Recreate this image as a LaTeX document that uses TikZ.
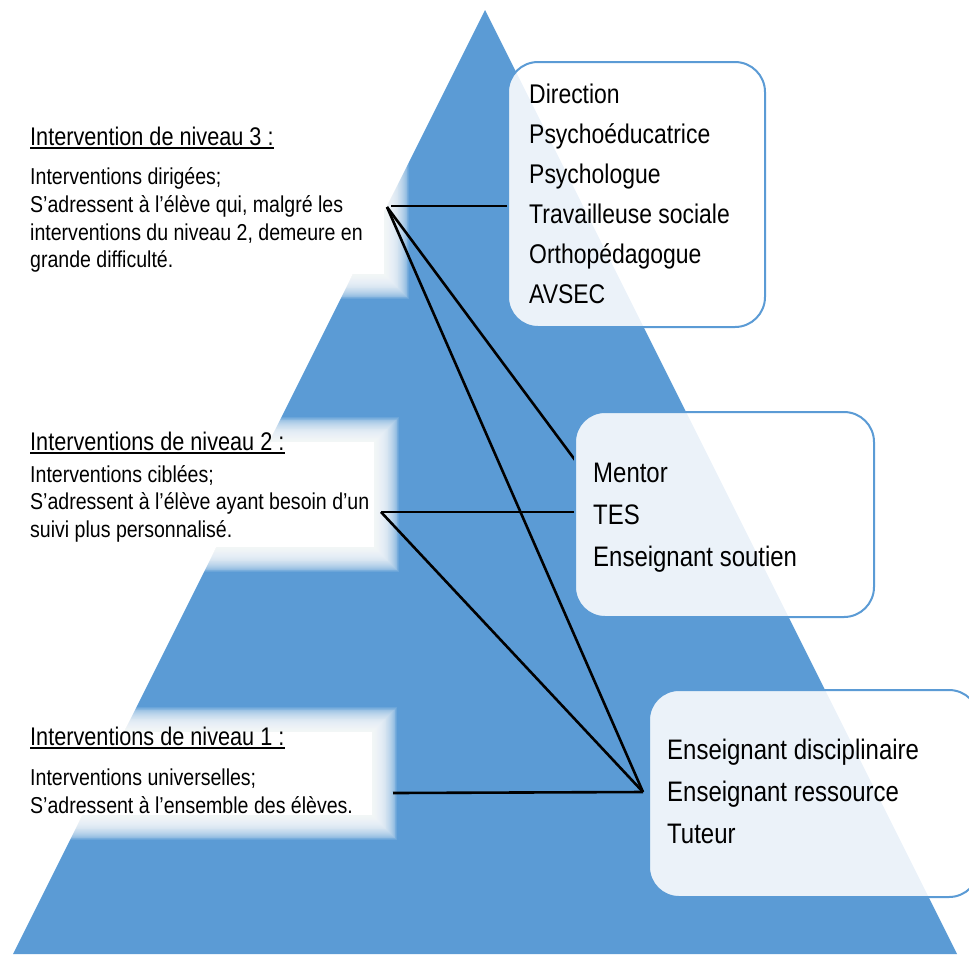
\documentclass[tikz,border=0pt]{standalone}
\usepackage{fontspec}
\setmainfont{Liberation Sans}[FakeStretch=0.85]
\definecolor{tri}{HTML}{5B9BD5}
\newcommand\glowbox[4]{%
  \foreach \i in {1,...,28}{\fill[white,opacity=0.1] ({#1-\i*0.9},{#2-\i*0.9}) rectangle ({#3+\i*0.9},{#4+\i*0.9});}
  \fill[white] (#1,#2) rectangle (#3,#4);}
\begin{document}
\begin{tikzpicture}[x=1pt,y=-1pt,
  conn/.style={black, line width=2.6pt},
  rbox/.style={draw=tri, line width=2pt, fill=white, fill opacity=0.88, rounded corners=30pt, inner sep=0pt},
  rtxt/.style={anchor=base west, inner sep=0pt, font=\fontsize{27}{32}\selectfont},
  rtxtb/.style={anchor=base west, inner sep=0pt, font=\fontsize{28.2}{33}\selectfont},
  ttl/.style={anchor=base west, inner sep=0pt, font=\fontsize{25.5}{30}\selectfont},
  body/.style={anchor=base west, inner sep=0pt, font=\fontsize{23}{27}\selectfont},
  uline/.style={black, line width=1.8pt}]
\useasboundingbox (0,0) rectangle (969,954);
\clip (0,0) rectangle (969,954);
% pyramid
\fill[tri] (485,10) -- (957,954) -- (13,954) -- cycle;
% soft white panels behind the level texts
\glowbox{0}{112}{384}{274}
\glowbox{0}{442}{374}{547}
\glowbox{0}{732}{372}{815}
% level 3 text
\node[ttl] (t3) at (30,145) {Intervention de niveau 3 :};
\draw[uline] ([yshift=-3pt]t3.base west) -- ([yshift=-3pt]t3.base east);
\node[body] (t3a) at (30,184) {Interventions dirigées;};
\node[body] (t3b) at (30,212) {S’adressent à l’élève qui, malgré les};
\node[body] (t3c) at (30,240) {interventions du niveau 2, demeure en};
\node[body] (t3d) at (30,267) {grande difficulté.};
% level 2 text
\node[ttl] (t2) at (30,450) {Interventions de niveau 2 :};
\draw[uline] ([yshift=-3pt]t2.base west) -- ([yshift=-3pt]t2.base east);
\node[body] (t2a) at (30,482) {Interventions ciblées;};
\node[body] (t2b) at (30,509) {S’adressent à l’élève ayant besoin d’un};
\node[body] (t2c) at (30,537) {suivi plus personnalisé.};
% level 1 text
\node[ttl] (t1) at (30,745) {Interventions de niveau 1 :};
\draw[uline] ([yshift=-3pt]t1.base west) -- ([yshift=-3pt]t1.base east);
\node[body] (t1a) at (30,785) {Interventions universelles;};
\node[body] (t1b) at (30,813) {S’adressent à l’ensemble des élèves.};
% junction points
\coordinate (j3) at (387,207);
\coordinate (j3h) at (391,206);
\coordinate (j2) at (381,512);
\coordinate (j1) at (393,793);
\coordinate (e1) at (507,206);
\coordinate (e2a) at (575,460);
\coordinate (e2b) at (575,512);
\coordinate (e3) at (643,792);
% connectors
\draw[conn] (j3h) -- (e1);
\draw[conn] (j3) -- (e2a);
\draw[conn] (j3) -- (e3);
\draw[conn] (j2) -- (e2b);
\draw[conn] (j2) -- (e3);
\draw[conn] (j1) -- (e3);
% right boxes
\node[rbox, minimum width=257pt, minimum height=265pt] (b1) at (636.5,194.5) {};
\node[rbox, minimum width=299pt, minimum height=205pt] (b2) at (724.5,514.5) {};
\node[rbox, minimum width=330pt, minimum height=207pt] (b3) at (814,793.5) {};
\node[rtxt] (r1) at (529,103) {Direction};
\node[rtxt] (r2) at (529,143) {Psychoéducatrice};
\node[rtxt] (r3) at (529,183) {Psychologue};
\node[rtxt] (r4) at (529,223) {Travailleuse sociale};
\node[rtxt] (r5) at (529,263) {Orthopédagogue};
\node[rtxt] (r6) at (529,303) {AVSEC};
\node[rtxtb] (m1) at (593,482) {Mentor};
\node[rtxtb] (m2) at (593,524) {TES};
\node[rtxtb] (m3) at (593,566) {Enseignant soutien};
\node[rtxtb] (s1) at (667,759) {Enseignant disciplinaire};
\node[rtxtb] (s2) at (667,801) {Enseignant ressource};
\node[rtxtb] (s3) at (667,843) {Tuteur};
\end{tikzpicture}
\end{document}
